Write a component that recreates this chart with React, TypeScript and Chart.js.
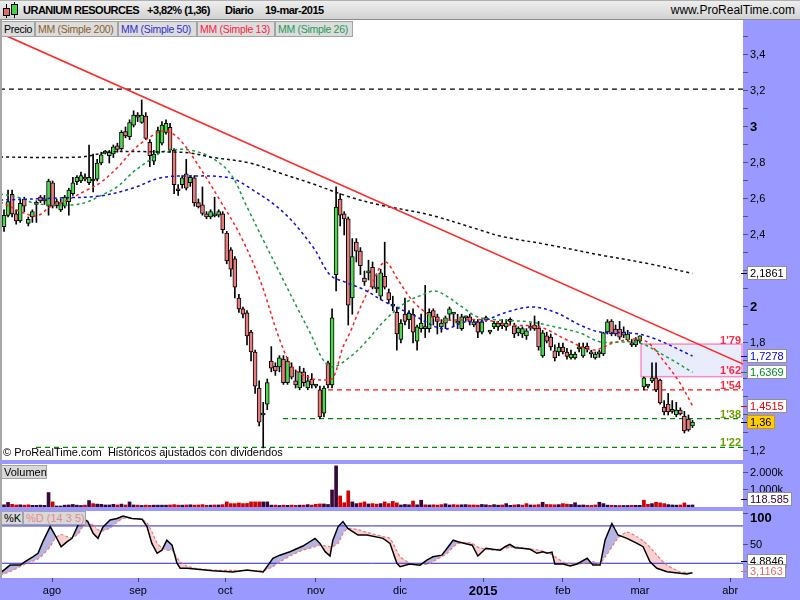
import React, { useEffect, useRef } from "react";
import { Chart, registerables } from "chart.js";

Chart.register(...registerables);

const FONT = '"Liberation Sans", Arial, sans-serif';
Chart.defaults.font.family = FONT;

// ---------------- DATA ----------------
const opens = [2.446, 2.509, 2.626, 2.517, 2.478, 2.598, 2.465, 2.5, 2.58, 2.61,
  2.59, 2.56, 2.69, 2.585, 2.54, 2.56, 2.585, 2.63, 2.696, 2.7,
  2.72, 2.69, 2.7, 2.71, 2.8, 2.855, 2.84, 2.85, 2.896, 2.88,
  2.974, 2.946, 3.01, 3.06, 3.026, 3.06, 2.915, 2.81, 2.855, 2.91,
  2.97, 2.998, 2.87, 2.65, 2.68, 2.74, 2.69, 2.717, 2.58, 2.567,
  2.517, 2.5, 2.506, 2.51, 2.517, 2.41, 2.317, 2.267, 2.05, 1.99,
  1.967, 1.86, 1.75, 1.55, 1.4, 1.46, 1.7, 1.67, 1.667, 1.71,
  1.58, 1.667, 1.59, 1.55, 1.64, 1.55, 1.6, 1.56, 1.54, 1.41,
  1.69, 1.567, 2.18, 2.6, 2.517, 2.49, 2.05, 2.36, 2.31, 2.16,
  2.19, 2.22, 2.11, 2.06, 2.17, 2.08, 2.005, 1.97, 1.82, 1.96,
  1.93, 1.96, 1.81, 1.88, 1.88, 1.88, 1.98, 1.945, 1.89, 1.91,
  1.96, 1.96, 1.91, 1.88, 1.94, 1.945, 1.9, 1.917, 1.86, 1.93,
  1.86, 1.89, 1.89, 1.91, 1.89, 1.93, 1.895, 1.856, 1.85, 1.84,
  1.894, 1.9, 1.883, 1.728, 1.84, 1.833, 1.756, 1.75, 1.778, 1.75,
  1.717, 1.717, 1.767, 1.728, 1.783, 1.74, 1.717, 1.74, 1.739, 1.861,
  1.922, 1.878, 1.878, 1.861, 1.817, 1.8, 1.79, 1.81, 1.556, 1.56,
  1.589, 1.606, 1.594, 1.444, 1.46, 1.42, 1.4, 1.428, 1.394, 1.378,
  1.339];
const highs = [2.54, 2.65, 2.65, 2.54, 2.6, 2.61, 2.5, 2.54, 2.59, 2.62,
  2.62, 2.71, 2.7, 2.6, 2.6, 2.62, 2.66, 2.72, 2.73, 2.75,
  2.74, 2.9, 2.85, 2.82, 2.86, 2.87, 2.87, 2.9, 2.91, 2.98,
  3.0, 3.04, 3.09, 3.08, 3.15, 3.08, 2.93, 2.87, 3.0, 3.03,
  3.04, 3.02, 2.88, 2.68, 2.73, 2.82, 2.73, 2.73, 2.6, 2.667,
  2.53, 2.54, 2.61, 2.54, 2.53, 2.42, 2.33, 2.28, 2.07, 2.0,
  1.98, 1.87, 1.76, 1.59, 1.47, 1.6, 1.78, 1.69, 1.73, 1.73,
  1.72, 1.69, 1.65, 1.67, 1.66, 1.62, 1.63, 1.57, 1.56, 1.56,
  1.7, 1.99, 2.667, 2.63, 2.53, 2.5, 2.38, 2.38, 2.33, 2.2,
  2.26, 2.25, 2.18, 2.21, 2.36, 2.1, 2.06, 2.0, 1.93, 2.05,
  1.98, 1.99, 1.9, 1.96, 2.12, 1.99, 1.99, 1.96, 1.93, 1.95,
  2.0, 1.97, 1.96, 1.96, 1.95, 1.96, 1.93, 1.93, 1.93, 1.95,
  1.87, 1.92, 1.92, 1.93, 1.93, 1.94, 1.91, 1.89, 1.89, 1.88,
  1.91, 1.95, 1.92, 1.87, 1.86, 1.85, 1.79, 1.8, 1.8, 1.77,
  1.76, 1.75, 1.8, 1.8, 1.8, 1.76, 1.75, 1.76, 1.86, 1.93,
  1.93, 1.9, 1.92, 1.89, 1.87, 1.82, 1.83, 1.84, 1.61, 1.57,
  1.69, 1.69, 1.6, 1.48, 1.52, 1.48, 1.47, 1.44, 1.42, 1.4,
  1.37];
const lows = [2.42, 2.5, 2.5, 2.46, 2.47, 2.53, 2.45, 2.47, 2.47, 2.58,
  2.57, 2.51, 2.55, 2.55, 2.53, 2.55, 2.51, 2.62, 2.68, 2.69,
  2.7, 2.68, 2.64, 2.7, 2.79, 2.85, 2.8, 2.83, 2.86, 2.87,
  2.94, 2.93, 3.0, 3.03, 3.02, 2.93, 2.78, 2.79, 2.85, 2.9,
  2.96, 2.86, 2.63, 2.62, 2.66, 2.65, 2.67, 2.56, 2.55, 2.51,
  2.49, 2.49, 2.5, 2.5, 2.41, 2.24, 2.17, 2.05, 1.97, 1.94,
  1.79, 1.7, 1.52, 1.34, 1.217, 1.43, 1.64, 1.62, 1.64, 1.57,
  1.57, 1.6, 1.55, 1.54, 1.56, 1.54, 1.55, 1.55, 1.38, 1.39,
  1.55, 1.55, 2.09, 2.45, 2.4, 1.9, 1.96, 2.25, 2.18, 2.12,
  2.15, 2.1, 2.08, 2.04, 2.1, 2.02, 1.98, 1.76, 1.8, 1.9,
  1.88, 1.8, 1.76, 1.86, 1.83, 1.86, 1.9, 1.85, 1.86, 1.88,
  1.93, 1.89, 1.88, 1.87, 1.92, 1.9, 1.89, 1.83, 1.85, 1.92,
  1.85, 1.88, 1.87, 1.88, 1.87, 1.9, 1.83, 1.84, 1.83, 1.82,
  1.87, 1.87, 1.76, 1.72, 1.8, 1.76, 1.7, 1.73, 1.74, 1.71,
  1.71, 1.71, 1.75, 1.72, 1.75, 1.72, 1.71, 1.72, 1.73, 1.85,
  1.84, 1.84, 1.82, 1.83, 1.81, 1.78, 1.78, 1.8, 1.54, 1.55,
  1.58, 1.53, 1.46, 1.4, 1.4, 1.41, 1.39, 1.4, 1.3, 1.31,
  1.33];
const closes = [2.509, 2.585, 2.517, 2.478, 2.576, 2.56, 2.487, 2.53, 2.57, 2.59,
  2.6, 2.7, 2.56, 2.563, 2.58, 2.61, 2.65, 2.69, 2.72, 2.73,
  2.71, 2.72, 2.71, 2.8, 2.845, 2.86, 2.86, 2.89, 2.876, 2.97,
  2.95, 3.024, 3.066, 3.055, 3.066, 2.937, 2.84, 2.85, 2.98, 3.01,
  3.02, 2.872, 2.68, 2.646, 2.717, 2.66, 2.72, 2.578, 2.556, 2.52,
  2.5, 2.53, 2.51, 2.53, 2.43, 2.256, 2.21, 2.11, 1.99, 1.96,
  1.84, 1.75, 1.56, 1.36, 1.41, 1.58, 1.66, 1.645, 1.717, 1.58,
  1.7, 1.61, 1.567, 1.64, 1.58, 1.59, 1.567, 1.565, 1.39, 1.55,
  1.567, 1.94, 2.555, 2.51, 2.49, 2.01, 2.28, 2.31, 2.23, 2.14,
  2.195, 2.11, 2.1, 2.19, 2.11, 2.04, 2.01, 1.85, 1.91, 1.92,
  1.965, 1.86, 1.89, 1.91, 1.885, 1.97, 1.945, 1.92, 1.91, 1.94,
  1.99, 1.965, 1.915, 1.945, 1.945, 1.92, 1.917, 1.86, 1.917, 1.935,
  1.865, 1.91, 1.91, 1.895, 1.91, 1.92, 1.85, 1.883, 1.88, 1.867,
  1.883, 1.878, 1.778, 1.856, 1.81, 1.778, 1.717, 1.778, 1.75, 1.725,
  1.739, 1.739, 1.77, 1.778, 1.767, 1.745, 1.739, 1.745, 1.856, 1.917,
  1.85, 1.85, 1.833, 1.844, 1.85, 1.79, 1.817, 1.84, 1.606, 1.565,
  1.606, 1.539, 1.467, 1.417, 1.417, 1.425, 1.428, 1.406, 1.311, 1.317,
  1.36];
const volumesK = [130, 270, 160, 120, 130, 110, 130, 100, 100, 110,
  100, 850, 300, 60, 60, 110, 120, 150, 110, 90,
  110, 380, 200, 170, 160, 120, 120, 160, 120, 170,
  120, 300, 120, 110, 90, 110, 100, 110, 110, 110,
  110, 120, 140, 110, 110, 120, 130, 110, 120, 140,
  100, 110, 120, 120, 140, 300, 200, 200, 240, 200,
  210, 300, 300, 300, 300, 300, 110, 110, 90, 110,
  100, 110, 100, 110, 110, 140, 110, 160, 180, 180,
  150, 1000, 2420, 650, 250, 950, 300, 200, 240, 300,
  180, 200, 170, 200, 300, 200, 330, 240, 120, 150,
  130, 350, 130, 400, 130, 120, 130, 110, 140, 190,
  120, 140, 120, 130, 140, 120, 120, 110, 150, 130,
  100, 140, 110, 120, 200, 100, 120, 140, 110, 200,
  120, 120, 140, 280, 150, 140, 130, 140, 200, 170,
  150, 250, 110, 120, 100, 90, 120, 280, 200, 110,
  100, 90, 90, 90, 90, 100, 100, 100, 400, 160,
  200, 280, 240, 200, 140, 120, 110, 120, 240, 110,
  118.585];

const monthTickDays = [11.85, 33.1, 54.6, 77.0, 97.8, 118.3, 138.0, 157.0, 179.3];
const monthLabels = ["ago", "sep", "oct", "nov", "dic", "2015", "feb", "mar", "abr"];
const priceTicks = [1.2, 1.3, 1.4, 1.5, 1.6, 1.7, 1.8, 1.9, 2.0, 2.1, 2.2, 2.3, 2.4, 2.5, 2.6, 2.7, 2.8, 2.9, 3.0, 3.1, 3.2, 3.3, 3.4, 3.5];
const hiddenPriceLabels = [1.4, 1.6, 2.2];
const volumeTicksK = [1000, 2000];
const stochTicks = [50, 100];
const stochBands = [80, 20];

const sma200Days = [-1, 18.8, 26.2, 36.0, 41.0, 45.9, 50.9, 60.7, 68.1, 75.6, 85.4, 92.8, 105.2, 117.5, 122.5, 134.8, 147.2, 159.5, 170];
const sma200 = [2.833, 2.833, 2.861, 2.863, 2.861, 2.856, 2.833, 2.8, 2.744, 2.689, 2.611, 2.567, 2.511, 2.428, 2.394, 2.344, 2.289, 2.239, 2.1861];
const sma50Days = [-1, 13.8, 23.7, 31.9, 38.5, 45.9, 55.8, 60.7, 68.9, 76.3, 80.5, 84.2, 89.1, 94.1, 101.0, 108.4, 113.8, 117.5, 124.2, 130.6, 136.5, 142.2, 147.2, 154.6, 160.2, 170];
const sma50 = [2.594, 2.606, 2.617, 2.661, 2.717, 2.728, 2.717, 2.661, 2.528, 2.333, 2.178, 2.139, 2.094, 2.028, 1.956, 1.878, 1.917, 1.917, 1.972, 2.0, 1.967, 1.9, 1.861, 1.856, 1.828, 1.7278];
const sma13Days = [-1, 7.7, 11.4, 15.6, 20.5, 23.7, 27.9, 31.9, 34.3, 37.8, 40.2, 43.5, 48.4, 53.3, 58.3, 63.2, 68.1, 71.4, 75.6, 78.8, 81.2, 83.7, 85.4, 87.4, 90.9, 94.1, 97.3, 100.7, 104.0, 107.2, 111.4, 118.8, 124.9, 132.3, 139.0, 145.4, 150.4, 155.3, 158.8, 162.7, 166.9, 170];
const sma13 = [2.583, 2.506, 2.556, 2.594, 2.65, 2.689, 2.772, 2.872, 2.917, 2.967, 2.978, 2.928, 2.772, 2.594, 2.4, 2.15, 1.817, 1.661, 1.606, 1.594, 1.606, 1.778, 1.856, 1.967, 2.133, 2.25, 2.15, 2.039, 1.972, 1.928, 1.928, 1.928, 1.9, 1.889, 1.817, 1.761, 1.8, 1.822, 1.806, 1.706, 1.578, 1.4515];
const sma26Days = [-1, 4.0, 7.2, 12.1, 17.0, 20.5, 23.7, 27.9, 31.9, 35.3, 38.5, 41.0, 45.9, 50.9, 55.8, 60.0, 64.0, 68.1, 72.3, 75.6, 78.8, 81.2, 85.4, 89.1, 94.1, 99.0, 103.2, 106.4, 109.6, 113.1, 117.0, 122.0, 129.9, 137.3, 142.2, 147.2, 152.1, 157.0, 163.7, 170];
const sma26 = [2.628, 2.606, 2.578, 2.567, 2.567, 2.583, 2.617, 2.667, 2.75, 2.806, 2.856, 2.872, 2.872, 2.833, 2.744, 2.556, 2.372, 2.189, 2.0, 1.856, 1.706, 1.667, 1.722, 1.8, 1.928, 2.022, 2.067, 2.089, 2.056, 2.0, 1.944, 1.928, 1.917, 1.883, 1.856, 1.806, 1.806, 1.8, 1.722, 1.6369];

const trendDays = [-1, 182.5];
const trendPrices = [3.522, 1.683];
const levelPrices = [3.21, 1.54, 1.38, 1.22];
const levelStartDays = [-1, 80.0, 68.9, 7.9];
const zoneDays = [157.3, 182.5];
const zonePrices = [1.613, 1.794];
const levelLabelTexts = ["1'79", "1'62", "1'54", "1'38", "1'22"];
const levelLabelPrices = [1.79, 1.62, 1.54, 1.38, 1.22];

const stochDays = [-1, 1.5, 4.0, 5.2, 7.2, 8.4, 9.6, 11.4, 12.6, 14.1,
  15.6, 16.8, 18.3, 19.5, 20.7, 22.0, 23.2, 24.4, 26.2, 27.9,
  29.4, 31.6, 34.1, 35.3, 36.5, 37.8, 39.0, 40.2, 41.5, 42.7,
  43.5, 45.2, 48.4, 51.6, 56.5, 60.0, 61.5, 64.0, 65.2, 66.4,
  68.1, 70.6, 73.8, 76.8, 78.0, 79.3, 80.5, 81.2, 82.5, 83.7,
  84.9, 87.4, 89.6, 93.6, 95.3, 97.0, 97.8, 100.2, 102.7, 104.4,
  105.9, 108.1, 109.4, 110.9, 112.1, 114.3, 115.6, 117.0, 119.0, 120.7,
  122.5, 123.7, 124.9, 126.2, 127.9, 129.9, 131.6, 133.1, 134.1, 135.3,
  136.0, 138.0, 139.8, 141.5, 144.0, 145.4, 147.2, 148.4, 150.1, 151.6,
  153.8, 156.3, 157.8, 159.5, 161.2, 163.7, 166.9, 168.6, 170];
const stochK = [3.8, 17, 17, 22.5, 30.5, 36, 54.7, 79, 65.4, 46.6,
  54.7, 60, 81.5, 92, 87, 68, 60, 77.8, 89.5, 92,
  96, 92, 90.7, 79, 52, 36, 41, 57, 49, 20,
  12, 12, 10, 8, 6, 9, 8, 6, 17, 28,
  33, 38.6, 47.7, 60, 52, 38.6, 31.7, 57, 79, 87,
  76, 65.4, 65.4, 60, 52, 20, 14.5, 18.8, 17, 25,
  30.5, 33, 44, 57, 54.7, 51, 49, 31.7, 44, 42.4,
  41, 46.6, 50.5, 45, 44, 42.4, 36, 38.6, 36, 38,
  18.8, 18.8, 15.6, 18.8, 28, 17, 17, 57, 84, 65.4,
  60, 52, 46.6, 22.5, 12, 6.4, 3.8, 2.7, 4.8846];
const stochD = [1, 6.4, 14.7, 18.8, 23.7, 26.8, 33.6, 46.6, 60, 66.2,
  62.7, 61, 67, 79, 81, 83, 73.7, 72, 76.6, 85.6,
  92, 92, 90.3, 85, 71, 52, 45, 41, 41, 29,
  22.5, 15, 10.7, 9, 8.5, 8, 8, 8, 11, 14.5,
  22, 31.6, 41, 46.6, 49, 47.8, 46.6, 46.6, 52, 68,
  76, 74, 69.6, 63, 60, 40, 30.5, 20, 18, 18.5,
  22.5, 31, 36, 46, 51.5, 53.4, 52, 46, 42.6, 41,
  42.8, 44, 45.3, 46.6, 44.8, 43, 41.6, 39.2, 37, 33.6,
  31, 22, 19.5, 18.8, 21, 22.5, 20, 30, 46, 60.5,
  70, 62.7, 56, 46, 33, 17, 6.4, 5, 3.1163];

// ---------------- LAYOUT / STYLE ----------------
const X_MIN = -0.99;
const X_MAX = 182.47;
const AXIS_W = 57;
const AXIS_BG = "#9999ff";
const GREEN = "#4fd84f";
const RED = "#e87c7c";

const fmtComma = (v: number, d: number) => v.toFixed(d).replace(".", ",");
const fmtThousands = (n: number) => String(Math.round(n)).replace(/\B(?=(\d{3})+(?!\d))/g, ".");

const pairs = (xs: number[], ys: number[]) => xs.map((x, i) => ({ x, y: ys[i] }));

function fitRightAxis(scale: any) {
  scale.width = AXIS_W;
  scale.paddingTop = 0;
  scale.paddingBottom = 0;
}

const panelBg = {
  id: "panelBg",
  beforeDraw(chart: any) {
    const { ctx, chartArea: a, width, height } = chart;
    ctx.save();
    ctx.fillStyle = AXIS_BG;
    ctx.fillRect(0, 0, width, height);
    ctx.fillStyle = "#ffffff";
    ctx.fillRect(a.left, a.top, a.right - a.left, a.bottom - a.top);
    ctx.restore();
  },
  afterDraw(chart: any) {
    const { ctx, chartArea: a } = chart;
    ctx.save();
    ctx.strokeStyle = "#a8a8a8";
    ctx.lineWidth = 2;
    ctx.beginPath();
    ctx.moveTo(1, a.top);
    ctx.lineTo(1, a.bottom);
    ctx.stroke();
    ctx.restore();
  },
};

function valueBox(ctx: CanvasRenderingContext2D, yc: number, text: string, color: string, bg: string, border: string) {
  ctx.save();
  ctx.font = `11px ${FONT}`;
  const w = Math.ceil(ctx.measureText(text).width) + 6;
  const left = 747;
  const top = Math.round(yc - 7);
  ctx.strokeStyle = color;
  ctx.lineWidth = 1;
  ctx.beginPath();
  ctx.moveTo(741, top + 7.5);
  ctx.lineTo(747, top + 7.5);
  ctx.stroke();
  ctx.fillStyle = bg;
  ctx.fillRect(left, top, w, 14);
  ctx.strokeStyle = border;
  ctx.strokeRect(left + 0.5, top + 0.5, w - 1, 13);
  ctx.fillStyle = color;
  ctx.textBaseline = "middle";
  ctx.textAlign = "left";
  ctx.fillText(text, left + 3, top + 7.5);
  ctx.restore();
}

const priceDecor = {
  id: "priceDecor",
  beforeDatasetsDraw(chart: any) {
    const { ctx, chartArea: a, scales } = chart;
    const x = scales.x, y = scales.y;
    const x1 = x.getPixelForValue(zoneDays[0]);
    const x2 = Math.min(x.getPixelForValue(zoneDays[1]), a.right - 1);
    const y1 = y.getPixelForValue(zonePrices[1]);
    const y2 = y.getPixelForValue(zonePrices[0]);
    ctx.save();
    ctx.fillStyle = "#e8ecfb";
    ctx.fillRect(x1, y1, x2 - x1, y2 - y1);
    ctx.strokeStyle = "#ff88c4";
    ctx.lineWidth = 1.5;
    ctx.strokeRect(x1, y1, x2 - x1, y2 - y1);
    ctx.restore();
  },
  afterDatasetsDraw(chart: any) {
    const { ctx, chartArea: a, scales } = chart;
    const y = scales.y;
    ctx.save();
    ctx.font = `bold 11px ${FONT}`;
    ctx.textAlign = "right";
    ctx.textBaseline = "alphabetic";
    levelLabelTexts.forEach((t, i) => {
      ctx.fillStyle = levelLabelPrices[i] > 1.5 ? "#ff2a48" : "#6e9c00";
      ctx.fillText(t, a.right - 2, y.getPixelForValue(levelLabelPrices[i]) - 1);
    });
    ctx.restore();
  },
  afterDraw(chart: any) {
    const { ctx, scales } = chart;
    const y = scales.y;
    const last = closes.length - 1;
    const items = [
      { v: sma200[sma200.length - 1], d: 4, c: "#000000", bg: "#ffffff", b: "#909090" },
      { v: sma50[sma50.length - 1], d: 4, c: "#0000cc", bg: "#ffffff", b: "#909090" },
      { v: sma26[sma26.length - 1], d: 4, c: "#008a20", bg: "#ffffff", b: "#909090" },
      { v: sma13[sma13.length - 1], d: 4, c: "#ee0000", bg: "#ffffff", b: "#909090" },
      { v: closes[last], d: 2, c: "#000000", bg: "#ffcc00", b: "#c89a00" },
    ];
    items.forEach((it) => valueBox(ctx, y.getPixelForValue(it.v), fmtComma(it.v, it.d), it.c, it.bg, it.b));
  },
};

const volDecor = {
  id: "volDecor",
  afterDraw(chart: any) {
    const { ctx, chartArea: a, scales } = chart;
    const v = volumesK[volumesK.length - 1];
    const yc = Math.min(scales.y.getPixelForValue(v), a.bottom - 8);
    valueBox(ctx, yc, fmtThousands(v * 1000), "#330033", "#ffffff", "#909090");
  },
};

const stochDecor = {
  id: "stochDecor",
  afterDraw(chart: any) {
    const { ctx, chartArea: a, scales } = chart;
    // top tick label kept inside the panel, as the reference does
    const topTick = stochTicks[stochTicks.length - 1];
    const yt = Math.max(scales.y.getPixelForValue(topTick), a.top + 7);
    ctx.save();
    ctx.font = `bold 13px ${FONT}`;
    ctx.fillStyle = "#000000";
    ctx.textAlign = "left";
    ctx.textBaseline = "middle";
    ctx.fillText(String(topTick), a.right + 7, yt);
    ctx.restore();
    const kv = stochK[stochK.length - 1];
    const dv = stochD[stochD.length - 1];
    const yd = Math.min(scales.y.getPixelForValue(dv), a.bottom - 7);
    valueBox(ctx, yd - 10, fmtComma(kv, 4), "#000000", "#ffffff", "#909090");
    valueBox(ctx, yd, fmtComma(dv, 4), "#e06a6a", "#ffffff", "#909090");
  },
};

const rightTickFont = (bigValues: number[]) => (ctx: any) => {
  const v = ctx.tick ? ctx.tick.value : NaN;
  if (bigValues.some((b) => Math.abs(b - v) < 1e-6)) return { size: 13, weight: "bold", family: FONT };
  return { size: 11, family: FONT };
};

const rightAxisBase = {
  position: "right" as const,
  afterFit: fitRightAxis,
  border: { display: false },
  grid: { drawOnChartArea: false, drawTicks: true, tickLength: 5, color: "#555555", lineWidth: 1 },
};

const hiddenX = { type: "linear" as const, min: X_MIN, max: X_MAX, display: false, offset: false };

function buildPrice(canvas: HTMLCanvasElement) {
  const up = closes.map((c, i) => c >= opens[i]);
  const levelColors = ["#000000", "#ff1010", "#008a00", "#008a00"];
  const datasets: any[] = [];
  levelPrices.forEach((p, i) => {
    datasets.push({
      type: "line",
      data: [{ x: levelStartDays[i], y: p }, { x: X_MAX, y: p }],
      borderColor: levelColors[i],
      borderWidth: 1.2,
      borderDash: [5, 4],
      pointRadius: 0,
      order: 9,
    });
  });
  datasets.push({
    type: "bar",
    data: lows.map((l, i) => ({ x: i, y: [l, highs[i]] })),
    backgroundColor: "#000000",
    borderWidth: 0,
    barThickness: 1,
    grouped: false,
    order: 8,
  });
  datasets.push({
    type: "bar",
    data: opens.map((o, i) => ({ x: i, y: [o, closes[i]] })),
    backgroundColor: up.map((u) => (u ? GREEN : RED)),
    borderColor: "#000000",
    borderWidth: 1,
    borderSkipped: false,
    minBarLength: 2,
    barThickness: 4,
    grouped: false,
    order: 7,
  });
  const mas = [
    { xs: sma200Days, ys: sma200, c: "#111111" },
    { xs: sma50Days, ys: sma50, c: "#1010dd" },
    { xs: sma26Days, ys: sma26, c: "#1a9a40" },
    { xs: sma13Days, ys: sma13, c: "#ff2020" },
  ];
  mas.forEach((m) =>
    datasets.push({
      type: "line",
      data: pairs(m.xs, m.ys),
      borderColor: m.c,
      borderWidth: 1.5,
      borderDash: [3, 3],
      pointRadius: 0,
      tension: 0.35,
      order: 3,
    })
  );
  datasets.push({
    type: "line",
    data: pairs(trendDays, trendPrices),
    borderColor: "#ff2a2a",
    borderWidth: 1.6,
    pointRadius: 0,
    order: 1,
  });

  return new Chart(canvas, {
    type: "bar",
    data: { datasets },
    options: {
      animation: false,
      responsive: false,
      maintainAspectRatio: false,
      devicePixelRatio: 1,
      events: [],
      layout: { padding: 0 },
      plugins: { legend: { display: false }, tooltip: { enabled: false } },
      scales: {
        x: hiddenX,
        y: {
          ...rightAxisBase,
          min: 1.15,
          max: 3.5944,
          afterBuildTicks: (s: any) => {
            s.ticks = priceTicks.map((v) => ({ value: v }));
          },
          ticks: {
            autoSkip: false,
            padding: 2,
            color: "#000000",
            font: rightTickFont([2, 3]) as any,
            callback: (v: any) => {
              const r = Math.round(Number(v) * 10);
              if (r % 2 !== 0) return "";
              if (hiddenPriceLabels.some((h) => Math.round(h * 10) === r)) return "";
              return fmtComma(r / 10, r % 10 === 0 ? 0 : 1);
            },
          },
        },
      },
    } as any,
    plugins: [panelBg, priceDecor],
  });
}

function buildVolume(canvas: HTMLCanvasElement) {
  const rising = closes.map((c, i) => (i === 0 ? c >= opens[0] : c >= closes[i - 1]));
  return new Chart(canvas, {
    type: "bar",
    data: {
      datasets: [
        {
          data: volumesK.map((v, i) => ({ x: i, y: v })),
          backgroundColor: rising.map((r) => (r ? "#3a0838" : "#d40000")),
          borderWidth: 0,
          barThickness: 3,
          grouped: false,
        } as any,
      ],
    },
    options: {
      animation: false,
      responsive: false,
      maintainAspectRatio: false,
      devicePixelRatio: 1,
      events: [],
      layout: { padding: 0 },
      plugins: { legend: { display: false }, tooltip: { enabled: false } },
      scales: {
        x: hiddenX,
        y: {
          ...rightAxisBase,
          min: 0,
          max: 2529,
          afterBuildTicks: (s: any) => {
            s.ticks = volumeTicksK.map((v) => ({ value: v }));
          },
          ticks: {
            autoSkip: false,
            padding: 2,
            color: "#000000",
            font: { size: 11, family: FONT },
            callback: (v: any) => `${Number(v) / 1000}.000k`,
          },
        },
      },
    } as any,
    plugins: [panelBg, volDecor],
  });
}

function buildStoch(canvas: HTMLCanvasElement) {
  const datasets: any[] = [
    {
      data: pairs(stochDays, stochK),
      borderColor: "#000000",
      borderWidth: 1.5,
      pointRadius: 0,
      tension: 0,
      fill: { target: "+1", above: "rgba(120,120,205,0.55)", below: "rgba(240,150,150,0.45)" },
      order: 1,
    },
    {
      data: pairs(stochDays, stochD),
      borderColor: "#f07a7a",
      borderWidth: 1.2,
      borderDash: [3, 2],
      pointRadius: 0,
      tension: 0.2,
      fill: false,
      order: 2,
    },
  ];
  stochBands.forEach((b) =>
    datasets.push({
      data: [{ x: X_MIN, y: b }, { x: X_MAX, y: b }],
      borderColor: "#2424d0",
      borderWidth: 1,
      pointRadius: 0,
      fill: false,
      order: 3,
    })
  );
  const topTick = stochTicks[stochTicks.length - 1];
  return new Chart(canvas, {
    type: "line",
    data: { datasets },
    options: {
      animation: false,
      responsive: false,
      maintainAspectRatio: false,
      devicePixelRatio: 1,
      events: [],
      layout: { padding: 0 },
      plugins: {
        legend: { display: false },
        tooltip: { enabled: false },
        filler: { drawTime: "beforeDatasetsDraw" },
      },
      scales: {
        x: {
          type: "linear",
          min: X_MIN,
          max: X_MAX,
          offset: false,
          position: "bottom",
          afterFit: (s: any) => {
            s.height = 22;
            s.paddingLeft = 0;
            s.paddingRight = 0;
          },
          afterBuildTicks: (s: any) => {
            s.ticks = monthTickDays.map((v) => ({ value: v }));
          },
          border: { display: false },
          grid: { drawOnChartArea: false, drawTicks: true, tickLength: 4, color: "#444444" },
          ticks: {
            autoSkip: false,
            maxRotation: 0,
            padding: 2,
            color: "#000000",
            font: ((ctx: any) =>
              ctx.tick && ctx.tick.label === "2015"
                ? { size: 13, weight: "bold", family: FONT }
                : { size: 11, family: FONT }) as any,
            callback: (_v: any, i: number) => monthLabels[i],
          },
        },
        y: {
          ...rightAxisBase,
          min: -3.7,
          max: 104,
          afterBuildTicks: (s: any) => {
            s.ticks = stochTicks.map((v) => ({ value: v }));
          },
          ticks: {
            autoSkip: false,
            padding: 2,
            color: "#000000",
            font: { size: 11, family: FONT },
            callback: (v: any) => (Number(v) === topTick ? "" : String(v)),
          },
        },
      },
    } as any,
    plugins: [panelBg, stochDecor],
  });
}

// ---------------- COMPONENT ----------------
const legendItems = [
  { text: "Precio", color: "#000000", left: 1, width: 34 },
  { text: "MM (Simple 200)", color: "#8b5e2b", left: 35, width: 83 },
  { text: "MM (Simple 50)", color: "#3030cc", left: 118, width: 79 },
  { text: "MM (Simple 13)", color: "#ff2244", left: 197, width: 78 },
  { text: "MM (Simple 26)", color: "#1f9a55", left: 275, width: 78 },
];

const boxStyle: React.CSSProperties = {
  position: "absolute",
  height: 14,
  lineHeight: "13px",
  fontSize: 11,
  background: "#d8d8d8",
  border: "1px solid #a4a4a4",
  boxSizing: "border-box",
  paddingLeft: 2,
  whiteSpace: "nowrap",
  overflow: "hidden",
};

export default function App() {
  const priceRef = useRef<HTMLCanvasElement>(null);
  const volRef = useRef<HTMLCanvasElement>(null);
  const stochRef = useRef<HTMLCanvasElement>(null);

  useEffect(() => {
    const charts = [
      buildPrice(priceRef.current as HTMLCanvasElement),
      buildVolume(volRef.current as HTMLCanvasElement),
      buildStoch(stochRef.current as HTMLCanvasElement),
    ];
    return () => charts.forEach((c) => c.destroy());
  }, []);

  const titleSpan = (text: string, left: number): React.ReactNode => (
    <span style={{ position: "absolute", left, top: 0, lineHeight: "19px", fontWeight: "bold", fontSize: 11, letterSpacing: -0.5 }}>{text}</span>
  );

  return (
    <div style={{ position: "fixed", left: 0, top: 0, width: 800, height: 600, background: AXIS_BG, overflow: "hidden", fontFamily: FONT, color: "#000" }}>
      <div style={{ position: "absolute", left: 0, top: 0, width: 800, height: 20, background: "linear-gradient(#eeeeee, #d2d2d2)", borderTop: "1px solid #b0b0b0", borderBottom: "1px solid #8c8c8c", boxSizing: "border-box" }}>
        <div style={{ position: "absolute", left: 6, top: 3, width: 1, height: 14, background: "#000" }} />
        <div style={{ position: "absolute", left: 3, top: 7, width: 7, height: 8, background: "#e06a6a", border: "1px solid #000", boxSizing: "border-box" }} />
        <div style={{ position: "absolute", left: 14, top: 1, width: 1, height: 16, background: "#000" }} />
        <div style={{ position: "absolute", left: 11, top: 3, width: 7, height: 11, background: "#44d044", border: "1px solid #000", boxSizing: "border-box" }} />
        {titleSpan("URANIUM RESOURCES", 23)}
        {titleSpan("+3,82% (1,36)", 147)}
        {titleSpan("Diario", 225)}
        {titleSpan("19-mar-2015", 265)}
        <span style={{ position: "absolute", right: 5, top: 0, lineHeight: "19px", fontSize: 12 }}>www.ProRealTime.com</span>
      </div>

      <canvas ref={priceRef} width={800} height={440} style={{ position: "absolute", left: 0, top: 20, width: 800, height: 440 }} />
      <canvas ref={volRef} width={800} height={43} style={{ position: "absolute", left: 0, top: 464, width: 800, height: 43 }} />
      <canvas ref={stochRef} width={800} height={89} style={{ position: "absolute", left: 0, top: 511, width: 800, height: 89 }} />

      {legendItems.map((it) => (
        <div key={it.text} style={{ ...boxStyle, left: it.left, top: 21, width: it.width, height: 16, lineHeight: "15px", fontSize: 10.5, letterSpacing: -0.3, color: it.color, background: "#dcdcdc" }}>
          {it.text}
        </div>
      ))}

      <div style={{ position: "absolute", left: 3, top: 446, fontSize: 11, lineHeight: "13px", whiteSpace: "pre" }}>
        {"© ProRealTime.com  Históricos ajustados con dividendos"}
      </div>

      <div style={{ ...boxStyle, left: 1, top: 465, width: 46 }}>Volumen</div>
      <div style={{ ...boxStyle, left: 1, top: 511, width: 22 }}>%K</div>
      <div style={{ ...boxStyle, left: 23, top: 511, width: 63, color: "#e88888" }}>%D (14 3 5)</div>
    </div>
  );
}
